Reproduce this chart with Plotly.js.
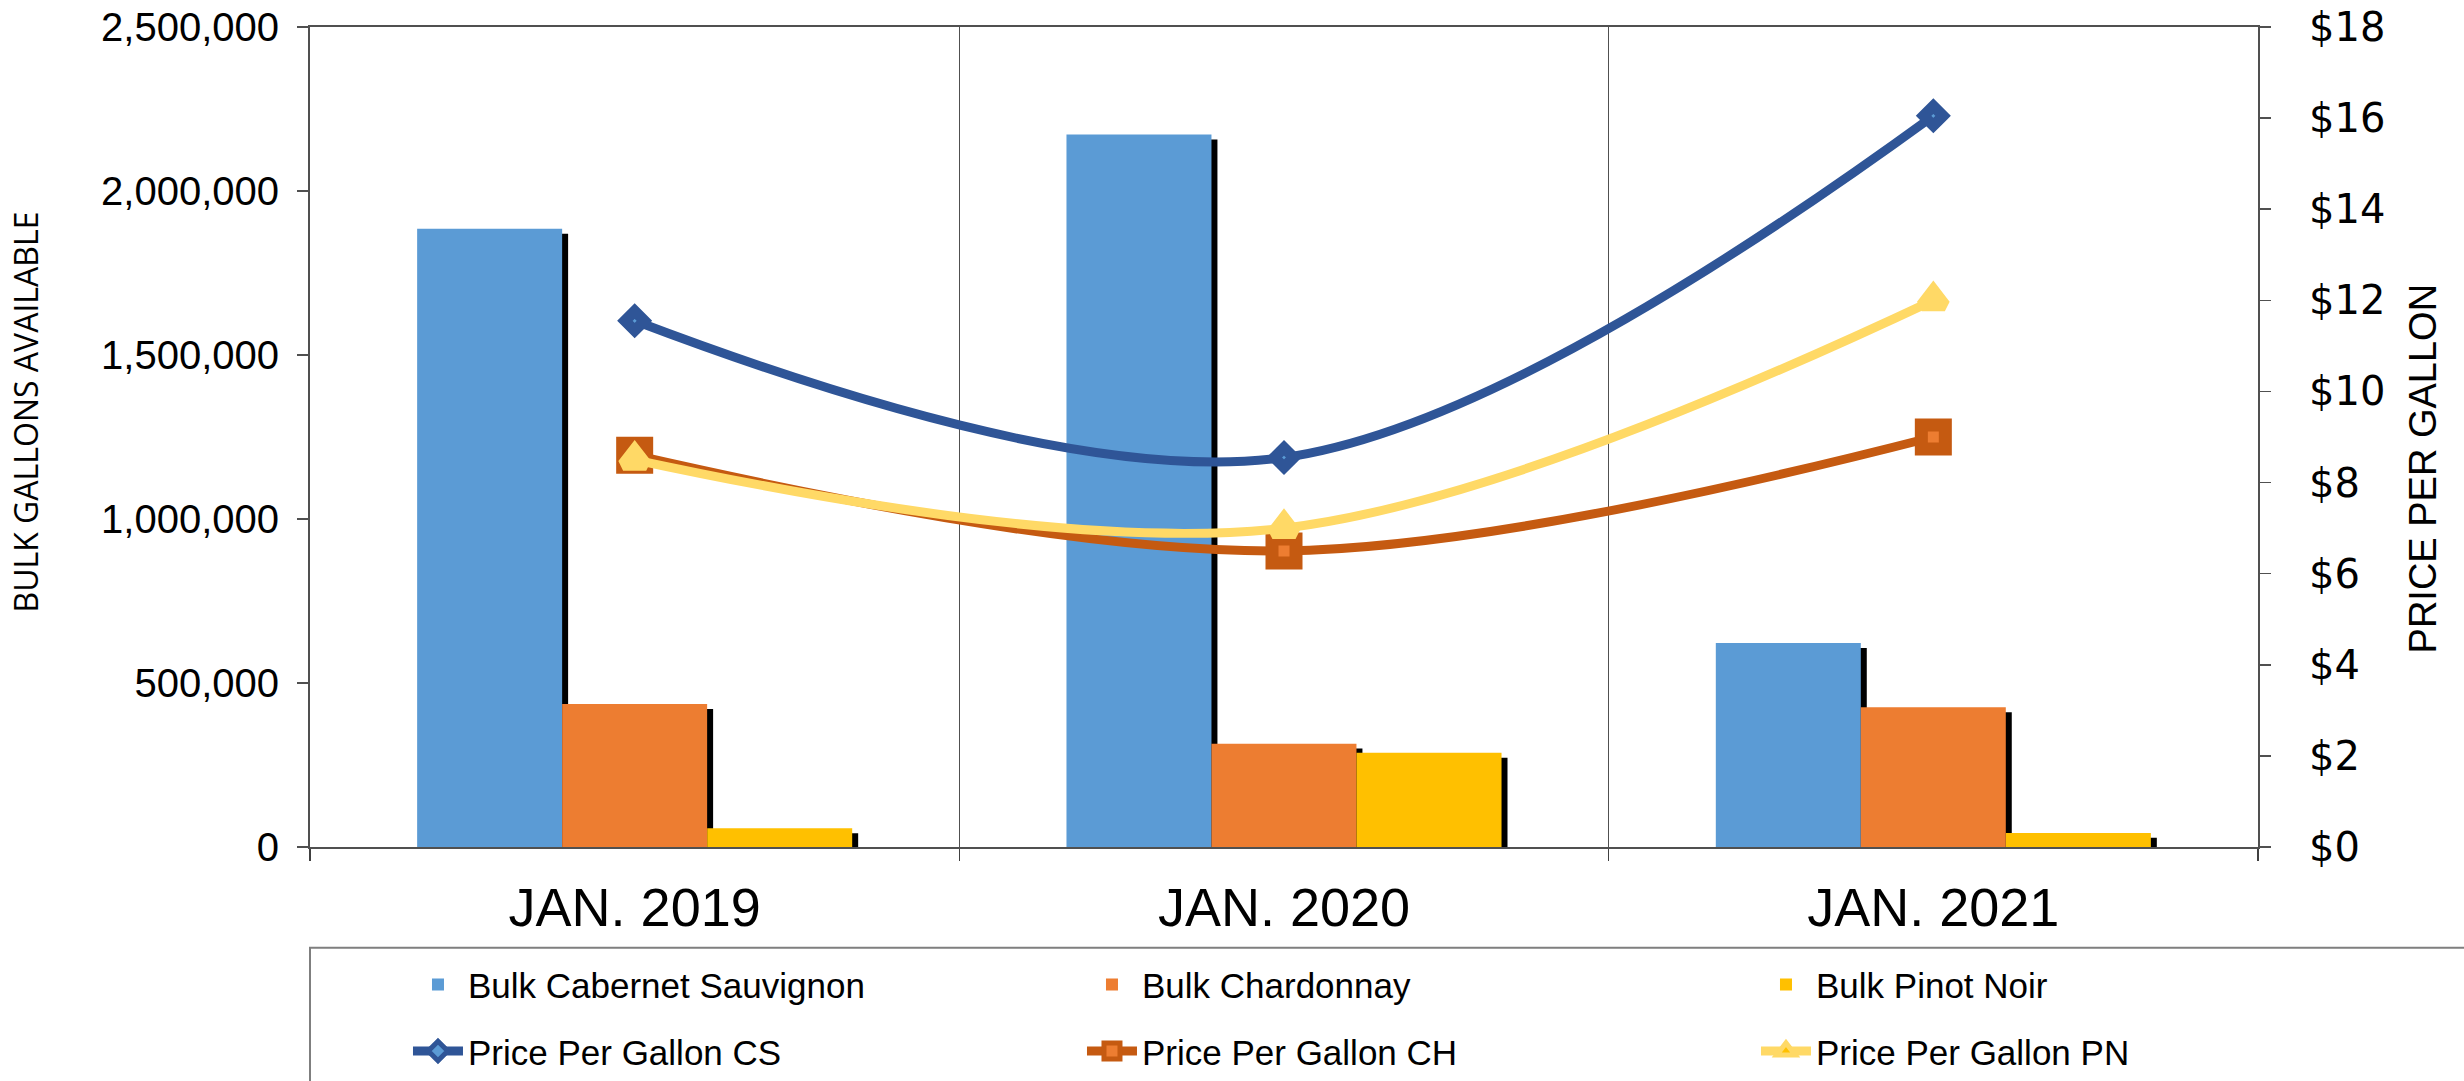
<!DOCTYPE html>
<html>
<head>
<meta charset="utf-8">
<script src="https://cdn.plot.ly/plotly-3.0.1.min.js"></script>
<style>html,body{margin:0;padding:0;background:#fff;}#chart{width:2464px;height:1081px;}</style>
</head>
<body>
<div id="chart"></div>
<script>
// ---- data ----
const categories = ['JAN. 2019', 'JAN. 2020', 'JAN. 2021'];
const bulkCabernet = [1885000, 2172000, 622000];
const bulkChardonnay = [436000, 315000, 426000];
const bulkPinotNoir = [57000, 287000, 43000];
const priceCS = [11.55, 8.55, 16.05];
const priceCH = [8.6, 6.5, 9.0];
const pricePN = [8.5, 7.0, 12.0];
const leftTicks = [0, 500000, 1000000, 1500000, 2000000, 2500000];
const rightTicks = [0, 2, 4, 6, 8, 10, 12, 14, 16, 18];
const rightTickLabels = rightTicks.map(v => '$' + v);

// ---- style ----
const FONT = 'Liberation Sans, Arial, sans-serif';
const NB = '\u00A0';
const ZW = '\u200B';
const barW = 0.2233;
const offsets = [-0.335, -0.1117, 0.1117];
const shadowDx = 0.0092;     // category units (~6px)
const shadowDy = 15000;      // axis units (~5px)

const barSeries = [
  {name: 'Bulk Cabernet Sauvignon', y: bulkCabernet, color: '#5B9BD5'},
  {name: 'Bulk Chardonnay', y: bulkChardonnay, color: '#ED7D31'},
  {name: 'Bulk Pinot Noir', y: bulkPinotNoir, color: '#FFC000'}
];
const lineSeries = [
  {name: 'Price Per Gallon CS', y: priceCS, line: '#2F5597', fill: '#5B9BD5', symbol: 'diamond', size: 15, lw: 11},
  {name: 'Price Per Gallon CH', y: priceCH, line: '#C55A11', fill: '#ED7D31', symbol: 'square', size: 24, lw: 13},
  {name: 'Price Per Gallon PN', y: pricePN, line: '#FFD966', fill: '#FFC000', symbol: 'triangle-up', size: 20, lw: 12}
];

const traces = [];
// shadows (behind bars)
barSeries.forEach((s, i) => {
  traces.push({
    type: 'bar', x: categories, y: s.y,
    base: s.y.map(() => -shadowDy),
    offset: offsets[i] + shadowDx, width: barW,
    marker: {color: '#000000', line: {width: 0}},
    showlegend: false, hoverinfo: 'skip'
  });
});
// bars
barSeries.forEach((s, i) => {
  traces.push({
    type: 'bar', name: s.name, x: categories, y: s.y,
    offset: offsets[i], width: barW,
    marker: {color: s.color, line: {width: 0}},
    legend: 'legend',
    legendwidth: i < 2 ? 609 : 440
  });
});
// price lines
lineSeries.forEach((s, i) => {
  traces.push({
    type: 'scatter', mode: 'lines+markers', name: s.name,
    x: categories, y: s.y, yaxis: 'y2',
    line: {color: s.line, width: 9, shape: 'spline', smoothing: 1},
    marker: {symbol: s.symbol, size: s.size, color: s.fill, line: {color: s.line, width: s.lw}},
    legend: 'legend2',
    legendwidth: i < 2 ? 609 : 440
  });
});

const layout = {
  width: 2464, height: 1081,
  margin: {l: 310, r: 206, t: 27, b: 234, autoexpand: false},
  paper_bgcolor: '#ffffff', plot_bgcolor: '#ffffff',
  font: {family: FONT, color: '#000000'},
  barmode: 'overlay',
  showlegend: true,
  xaxis: {
    type: 'category', range: [-0.5, 2.5],
    tickson: 'boundaries', ticks: 'outside', ticklen: 12, tickwidth: 1.5, tickcolor: '#404040',
    showgrid: true, gridcolor: '#505050', gridwidth: 1.5,
    showline: true, linecolor: '#505050', linewidth: 2, mirror: true,
    tickfont: {family: FONT, size: 54, color: '#000000'},
    ticklabelstandoff: 12,
    zeroline: false, fixedrange: true
  },
  yaxis: {
    range: [0, 2500000], tickvals: leftTicks, tickformat: ',d',
    ticks: 'outside', ticklen: 11, tickwidth: 1.5, tickcolor: '#505050',
    showline: true, linecolor: '#505050', linewidth: 2,
    showgrid: false, zeroline: false,
    tickfont: {family: FONT, size: 40, color: '#000000'},
    ticklabelstandoff: 10,
    title: {text: ZW + NB.repeat(6) + 'BULK GALLONS AVAILABLE', font: {family: 'Open Sans, Noto Sans, sans-serif', size: 32, color: '#000000'}, standoff: 53},
    automargin: true, fixedrange: true
  },
  yaxis2: {
    overlaying: 'y', side: 'right',
    range: [0, 18], tickvals: rightTicks, ticktext: rightTickLabels,
    ticks: 'outside', ticklen: 11, tickwidth: 1.5, tickcolor: '#505050',
    showline: true, linecolor: '#505050', linewidth: 2,
    showgrid: false, zeroline: false,
    tickfont: {family: 'DejaVu Sans, sans-serif', size: 40, color: '#000000'},
    ticklabelstandoff: 30,
    title: {text: 'PRICE PER GALLON' + NB.repeat(6) + ZW, font: {family: FONT, size: 38, color: '#000000'}, standoff: 25},
    automargin: true, fixedrange: true
  },
  legend: {
    orientation: 'h', x: 0.0503, xanchor: 'left', y: -0.168, yanchor: 'middle',
    font: {family: FONT, size: 35, color: '#000000'},
    bgcolor: 'rgba(0,0,0,0)', borderwidth: 0, itemwidth: 50, itemclick: false, itemdoubleclick: false
  },
  legend2: {
    orientation: 'h', x: 0.0503, xanchor: 'left', y: -0.249, yanchor: 'middle',
    font: {family: FONT, size: 35, color: '#000000'},
    bgcolor: 'rgba(0,0,0,0)', borderwidth: 0, itemwidth: 50, itemclick: false, itemdoubleclick: false
  },
  shapes: [{
    type: 'rect', xref: 'paper', yref: 'paper',
    x0: 0, x1: 1.3, y0: -0.123, y1: -0.5,
    line: {color: '#7f7f7f', width: 2}, fillcolor: 'rgba(0,0,0,0)', layer: 'below'
  }]
};

Plotly.newPlot('chart', traces, layout, {staticPlot: true, displayModeBar: false});
</script>
</body>
</html>
